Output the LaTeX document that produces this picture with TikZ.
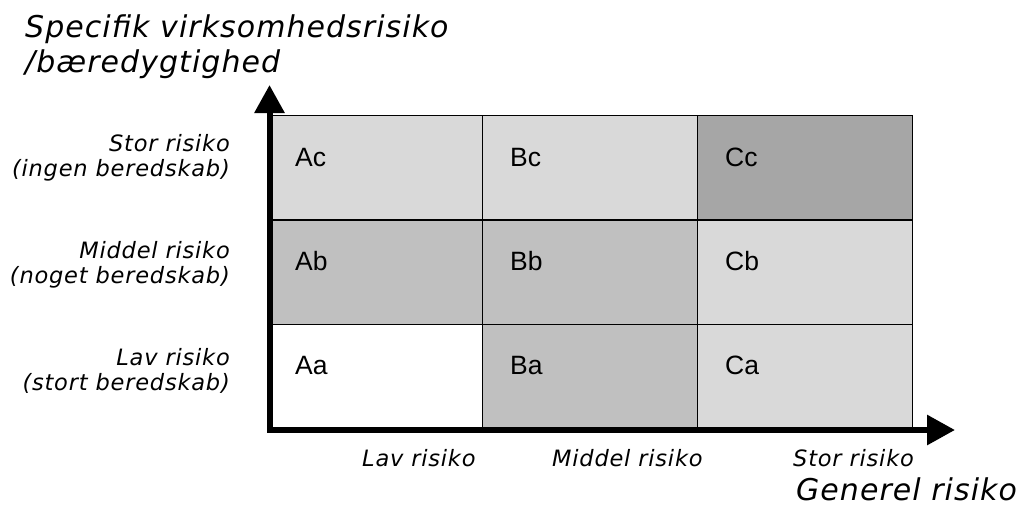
\documentclass[tikz,border=0pt]{standalone}
\usepackage{fontspec}
\setmainfont{Liberation Sans}
\newfontfamily\axfont[LetterSpace=3.5]{DejaVu Sans}
\newfontfamily\cellfont{Liberation Sans}
\usetikzlibrary{arrows.meta}
\definecolor{gLight}{RGB}{217,217,217}
\definecolor{gMid}{RGB}{192,192,192}
\definecolor{gDark}{RGB}{166,166,166}
\begin{document}
\begin{tikzpicture}[x=1pt,y=-1pt,
  cell/.style={draw=black,line width=1.3pt,minimum width=215pt,minimum height=104.3pt,inner sep=0pt,anchor=north west},
  celltext/.style={anchor=base west,inner sep=0pt,font=\cellfont\fontsize{26.5}{30}\selectfont},
  smalllbl/.style={inner sep=0pt,font=\axfont\itshape\fontsize{22.5}{26}\selectfont},
  biglbl/.style={inner sep=0pt,font=\axfont\itshape\fontsize{30}{34}\selectfont},
  axisline/.style={line width=6pt,line cap=rect,-{Triangle[length=28pt,width=29pt]}}]
\useasboundingbox (0,0) rectangle (1016,506);
% cells
\node[cell,fill=gLight] (Ac) at (267,115) {};
\node[cell,fill=gLight] (Bc) at (482,115) {};
\node[cell,fill=gDark]  (Cc) at (697,115) {};
\node[cell,fill=gMid]   (Ab) at (267,219.3) {};
\node[cell,fill=gMid]   (Bb) at (482,219.3) {};
\node[cell,fill=gLight] (Cb) at (697,219.3) {};
\node[cell,fill=white]  (Aa) at (267,323.6) {};
\node[cell,fill=gMid]   (Ba) at (482,323.6) {};
\node[cell,fill=gLight] (Ca) at (697,323.6) {};
% cell texts
\foreach \c in {Ac,Bc,Cc,Ab,Bb,Cb,Aa,Ba,Ca}{
  \node[celltext] (\c-t) at ([shift={(28,51)}]\c.north west) {\c};
}
% axes
\coordinate (O) at (269.5,430);
\coordinate (ytip) at (269.5,85);
\coordinate (xtip) at (955,430);
\draw[axisline] (O) -- (ytip);
\draw[axisline] (O) -- (xtip);
% left labels
\node[smalllbl,anchor=base east] (l1a) at (230,151) {Stor risiko};
\node[smalllbl,anchor=base east] (l1b) at (230,176) {(ingen beredskab)};
\node[smalllbl,anchor=base east] (l2a) at (230,258) {Middel risiko};
\node[smalllbl,anchor=base east] (l2b) at (230,283) {(noget beredskab)};
\node[smalllbl,anchor=base east] (l3a) at (230,365) {Lav risiko};
\node[smalllbl,anchor=base east] (l3b) at (230,390) {(stort beredskab)};
% bottom labels
\node[smalllbl,anchor=base west] (b1) at (362,466) {Lav risiko};
\node[smalllbl,anchor=base west] (b2) at (552,466) {Middel risiko};
\node[smalllbl,anchor=base west] (b3) at (793,466) {Stor risiko};
% axis titles
\node[biglbl,anchor=base west] (yt1) at (25,37) {Specifik virksomhedsrisiko};
\node[biglbl,anchor=base west] (yt2) at (25,72) {/bæredygtighed};
\node[biglbl,anchor=base west] (xt) at (796,500) {Generel risiko};
\end{tikzpicture}
\end{document}
